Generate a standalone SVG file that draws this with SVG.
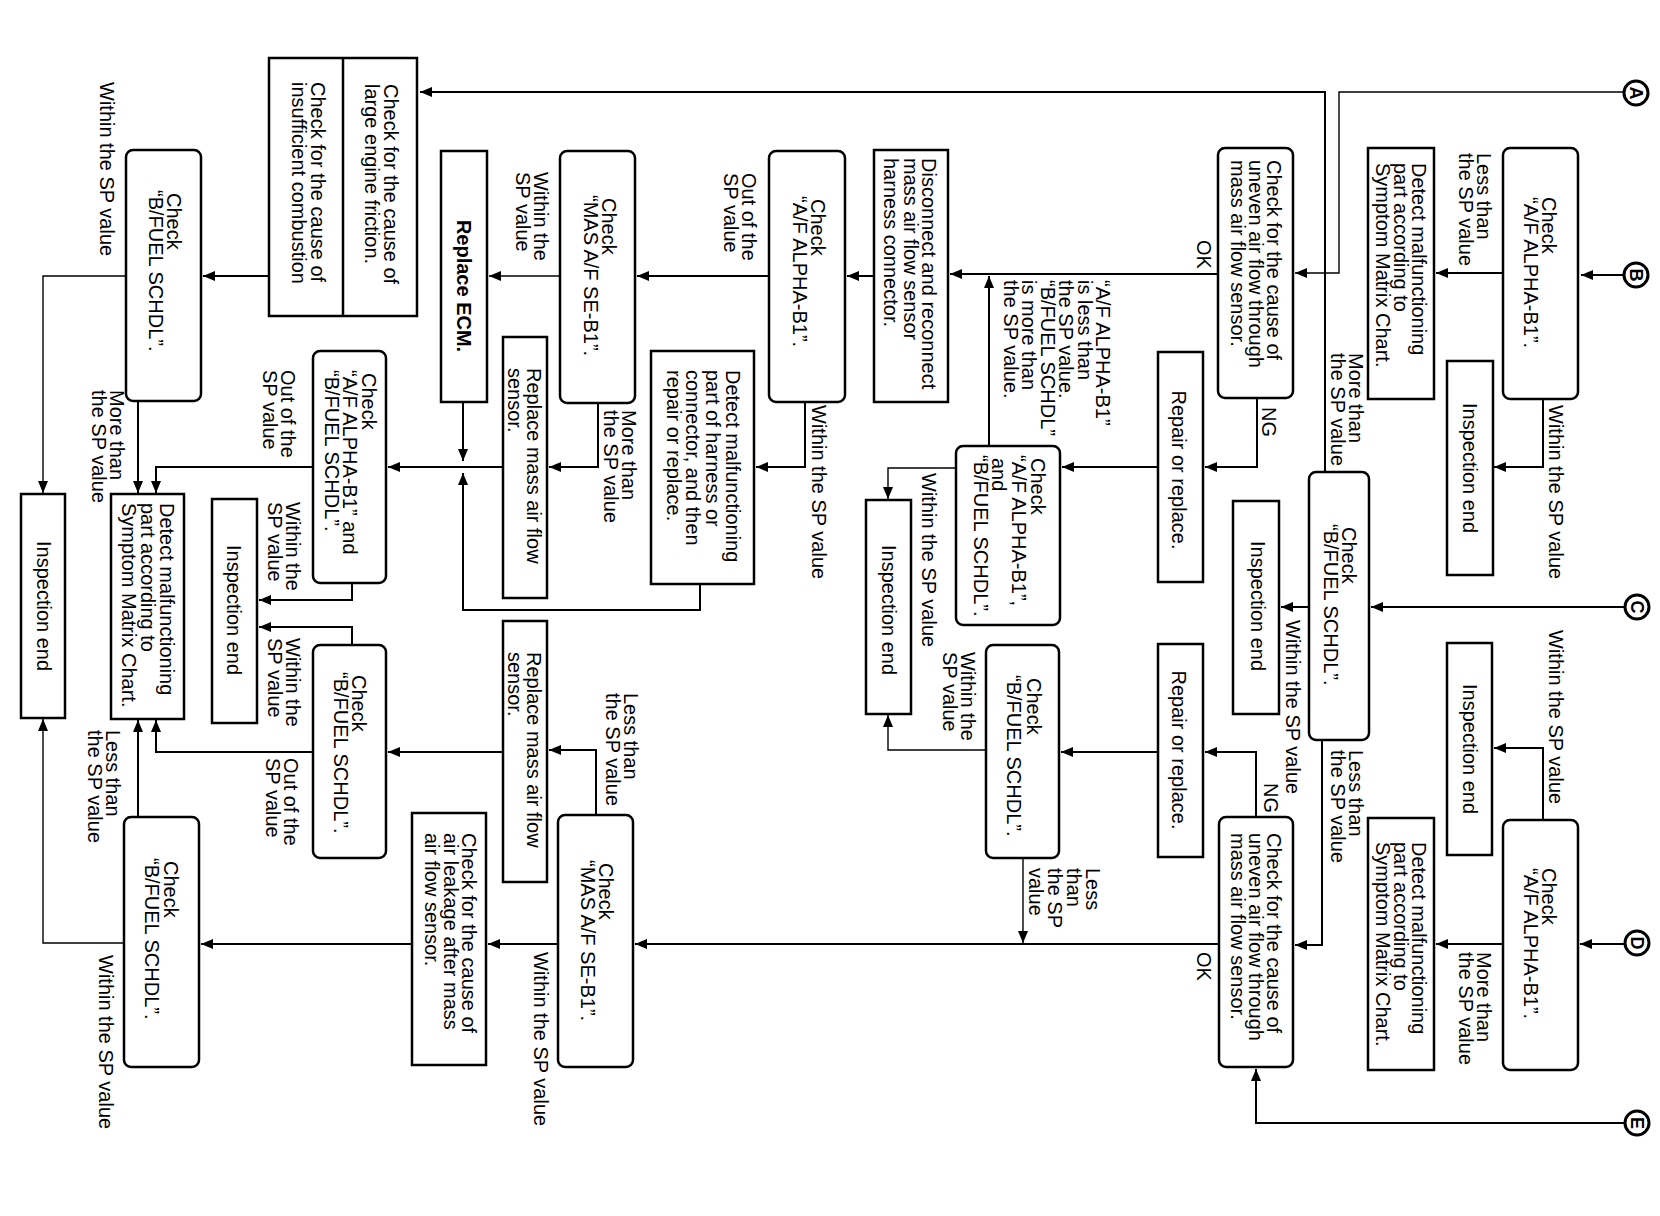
<svg xmlns="http://www.w3.org/2000/svg" width="1660" height="1216" viewBox="0 0 1660 1216">
<defs>
<marker id="ah" viewBox="0 0 12 10" refX="12" refY="5" markerWidth="12" markerHeight="10" markerUnits="userSpaceOnUse" orient="auto"><path d="M0,0L12,5L0,10z" fill="#000"/></marker>
<style>
.b{fill:#fff;stroke:#000;stroke-width:2.5}
.c{fill:none;stroke:#000;stroke-width:2;marker-end:url(#ah)}
.t{stroke-width:1.4}
.k{fill:#fff;stroke:#000;stroke-width:3}
text{font-family:"Liberation Sans",Arial,sans-serif;font-size:20px;fill:#000}
.m{text-anchor:middle}
.bd{font-weight:bold}
.cl{font-weight:bold;font-size:18px;text-anchor:middle}
</style>
</defs>
<rect width="1660" height="1216" fill="#fff"/>

<g id="connectors">
<polyline class="c t" points="1624,92 1339,92 1339,273 1295,273"/>
<polyline class="c" points="1624,275 1581,275"/>
<polyline class="c" points="1503,273 1436,273"/>
<polyline class="c" points="1543,399 1543,467 1494,467"/>
<polyline class="c" points="1218,274 950,274"/>
<polyline class="c" points="1257,398 1257,467 1205,467"/>
<polyline class="c" points="1158,467 1062,467"/>
<polyline class="c" points="989,446 989,276"/>
<polyline class="c t" points="956,468 888,468 888,499"/>
<polyline class="c" points="874,276 847,276"/>
<polyline class="c" points="769,276 637,276"/>
<polyline class="c" points="805,402 805,467 756,467"/>
<polyline class="c t" points="560,276 489,276"/>
<polyline class="c" points="598,403 598,467 549,467"/>
<polyline class="c" points="463,402 463,461"/>
<polyline class="c" points="700,584 700,610 463,610 463,473"/>
<polyline class="c" points="503,467 388,467"/>
<polyline class="c" points="1325,472 1325,92 420,92"/>
<polyline class="c" points="269,276 203,276"/>
<polyline class="c t" points="126,276 43,276 43,493"/>
<polyline class="c" points="138,401 138,493"/>
<polyline class="c" points="313,467 156,467 156,493"/>
<polyline class="c" points="352,583 352,600 259,600"/>
<polyline class="c" points="352,645 352,627 259,627"/>
<polyline class="c" points="313,752 156,752 156,720"/>
<polyline class="c" points="138,817 138,720"/>
<polyline class="c t" points="124,943 43,943 43,719"/>
<polyline class="c" points="1625,607 1371,607"/>
<polyline class="c" points="1309,607 1281,607"/>
<polyline class="c" points="1322,740 1322,945 1295,945"/>
<polyline class="c" points="1256,817 1256,752 1205,752"/>
<polyline class="c" points="1158,752 1061,752"/>
<polyline class="c t" points="986,750 888,750 888,715"/>
<polyline class="c t" points="1023,858 1023,943"/>
<polyline class="c" points="1219,944 635,944"/>
<polyline class="c" points="558,944 488,944"/>
<polyline class="c" points="412,944 201,944"/>
<polyline class="c" points="596,815 596,750 549,750"/>
<polyline class="c" points="503,752 388,752"/>
<polyline class="c" points="1625,944 1580,944"/>
<polyline class="c" points="1503,944 1436,944"/>
<polyline class="c" points="1543,820 1543,748 1494,748"/>
<polyline class="c" points="1625,1123 1256,1123 1256,1069"/>
</g>

<g id="labels">
<text transform="translate(100,82) rotate(90)">Within the SP value</text>
<text transform="translate(110,390) rotate(90)"><tspan x="0" y="0">More than</tspan><tspan x="0" y="18.5">the SP value</tspan></text>
<text transform="translate(281,370) rotate(90)"><tspan x="0" y="0">Out of the</tspan><tspan x="0" y="18.5">SP value</tspan></text>
<text transform="translate(286,502) rotate(90)"><tspan x="0" y="0">Within the</tspan><tspan x="0" y="18.5">SP value</tspan></text>
<text transform="translate(286,638) rotate(90)"><tspan x="0" y="0">Within the</tspan><tspan x="0" y="18.5">SP value</tspan></text>
<text transform="translate(284,758) rotate(90)"><tspan x="0" y="0">Out of the</tspan><tspan x="0" y="18.5">SP value</tspan></text>
<text transform="translate(106,730) rotate(90)"><tspan x="0" y="0">Less than</tspan><tspan x="0" y="18.5">the SP value</tspan></text>
<text transform="translate(99,955) rotate(90)">Within the SP value</text>
<text transform="translate(534,172) rotate(90)"><tspan x="0" y="0">Within the</tspan><tspan x="0" y="18.5">SP value</tspan></text>
<text transform="translate(622,410) rotate(90)"><tspan x="0" y="0">More than</tspan><tspan x="0" y="18.5">the SP value</tspan></text>
<text transform="translate(742,173) rotate(90)"><tspan x="0" y="0">Out of the</tspan><tspan x="0" y="18.5">SP value</tspan></text>
<text transform="translate(812,405) rotate(90)">Within the SP value</text>
<text transform="translate(624,693) rotate(90)"><tspan x="0" y="0">Less than</tspan><tspan x="0" y="18.5">the SP value</tspan></text>
<text transform="translate(534,952) rotate(90)">Within the SP value</text>
<text transform="translate(1197,240) rotate(90)">OK</text>
<text transform="translate(1096,280) rotate(90)"><tspan x="0" y="0">“A/F ALPHA-B1”</tspan><tspan x="0" y="18.5">is less than</tspan><tspan x="0" y="37">the SP value.</tspan><tspan x="0" y="55.5">“B/FUEL SCHDL”</tspan><tspan x="0" y="74">is more than</tspan><tspan x="0" y="92.5">the SP value.</tspan></text>
<text transform="translate(1262,407) rotate(90)">NG</text>
<text transform="translate(922,473) rotate(90)">Within the SP value</text>
<text transform="translate(961,652) rotate(90)"><tspan x="0" y="0">Within the</tspan><tspan x="0" y="18.5">SP value</tspan></text>
<text transform="translate(1086,868) rotate(90)"><tspan x="0" y="0">Less</tspan><tspan x="0" y="19">than</tspan><tspan x="0" y="38">the SP</tspan><tspan x="0" y="57">value</tspan></text>
<text transform="translate(1197,952) rotate(90)">OK</text>
<text transform="translate(1264,783) rotate(90)">NG</text>
<text transform="translate(1477,153) rotate(90)"><tspan x="0" y="0">Less than</tspan><tspan x="0" y="18.5">the SP value</tspan></text>
<text transform="translate(1549,405) rotate(90)">Within the SP value</text>
<text transform="translate(1349,353) rotate(90)"><tspan x="0" y="0">More than</tspan><tspan x="0" y="18.5">the SP value</tspan></text>
<text transform="translate(1286,620) rotate(90)">Within the SP value</text>
<text transform="translate(1349,750) rotate(90)"><tspan x="0" y="0">Less than</tspan><tspan x="0" y="18.5">the SP value</tspan></text>
<text transform="translate(1549,630) rotate(90)">Within the SP value</text>
<text transform="translate(1477,952) rotate(90)"><tspan x="0" y="0">More than</tspan><tspan x="0" y="18.5">the SP value</tspan></text>
</g>

<g id="n1"><rect class="b" x="269" y="58" width="148" height="258"/><line x1="343" y1="58" x2="343" y2="316" stroke="#000" stroke-width="2.5"/>
<text transform="translate(384,84) rotate(90)"><tspan x="0" y="0">Check for the cause of</tspan><tspan x="0" y="19">large engine friction.</tspan></text>
<text transform="translate(311,82) rotate(90)"><tspan x="0" y="0">Check for the cause of</tspan><tspan x="0" y="19">insufficient combustion</tspan></text></g>
<g id="n2"><rect class="b" x="126" y="150" width="75" height="251" rx="7"/><text transform="translate(167,190) rotate(90)"><tspan x="3" y="0">Check</tspan><tspan x="0" y="18.5">“B/FUEL SCHDL”.</tspan></text></g>
<g id="n3"><rect class="b" x="21" y="494" width="44" height="224"/><text class="m" transform="translate(37,606) rotate(90)">Inspection end</text></g>
<g id="n4"><rect class="b" x="111" y="494" width="73" height="225"/><text transform="translate(160,503) rotate(90)"><tspan x="0" y="0">Detect malfunctioning</tspan><tspan x="0" y="19">part according to</tspan><tspan x="0" y="38">Symptom Matrix Chart.</tspan></text></g>
<g id="n5"><rect class="b" x="212" y="499" width="45" height="224"/><text class="m" transform="translate(227,610) rotate(90)">Inspection end</text></g>
<g id="n6"><rect class="b" x="313" y="351" width="73" height="232" rx="7"/><text transform="translate(362,370) rotate(90)"><tspan x="3" y="0">Check</tspan><tspan x="0" y="19">“A/F ALPHA-B1” and</tspan><tspan x="0" y="37">“B/FUEL SCHDL”.</tspan></text></g>
<g id="n7"><rect class="b" x="313" y="645" width="73" height="213" rx="7"/><text transform="translate(352,672) rotate(90)"><tspan x="3" y="0">Check</tspan><tspan x="0" y="18.5">“B/FUEL SCHDL”.</tspan></text></g>
<g id="n8"><rect class="b" x="124" y="817" width="75" height="250" rx="7"/><text transform="translate(164,858) rotate(90)"><tspan x="3" y="0">Check</tspan><tspan x="0" y="19">“B/FUEL SCHDL”.</tspan></text></g>
<g id="n9"><rect class="b" x="441" y="151" width="46" height="251"/><text class="m bd" transform="translate(457,286) rotate(90)">Replace ECM.</text></g>
<g id="n10"><rect class="b" x="503" y="337" width="44" height="261"/><text transform="translate(527,368) rotate(90)"><tspan x="0" y="0">Replace mass air flow</tspan><tspan x="0" y="19">sensor.</tspan></text></g>
<g id="n11"><rect class="b" x="503" y="621" width="44" height="261"/><text transform="translate(527,652) rotate(90)"><tspan x="0" y="0">Replace mass air flow</tspan><tspan x="0" y="19">sensor.</tspan></text></g>
<g id="n12"><rect class="b" x="412" y="813" width="74" height="252"/><text transform="translate(462,833) rotate(90)"><tspan x="0" y="0">Check for the cause of</tspan><tspan x="0" y="18">air leakage after mass</tspan><tspan x="0" y="37">air flow sensor.</tspan></text></g>
<g id="n13"><rect class="b" x="560" y="151" width="75" height="252" rx="7"/><text transform="translate(602,195) rotate(90)"><tspan x="3" y="0">Check</tspan><tspan x="0" y="18.5">“MAS A/F SE-B1”.</tspan></text></g>
<g id="n14"><rect class="b" x="558" y="815" width="75" height="252" rx="7"/><text transform="translate(599,860) rotate(90)"><tspan x="3" y="0">Check</tspan><tspan x="0" y="18.5">“MAS A/F SE-B1”.</tspan></text></g>
<g id="n15"><rect class="b" x="651" y="351" width="103" height="233"/><text transform="translate(726,370) rotate(90)"><tspan x="0" y="0">Detect malfunctioning</tspan><tspan x="0" y="20">part of harness or</tspan><tspan x="0" y="40">connector, and then</tspan><tspan x="0" y="59">repair or replace.</tspan></text></g>
<g id="n16"><rect class="b" x="769" y="151" width="76" height="251" rx="7"/><text transform="translate(811,196) rotate(90)"><tspan x="3" y="0">Check</tspan><tspan x="0" y="18.5">“A/F ALPHA-B1”.</tspan></text></g>
<g id="n17"><rect class="b" x="874" y="150" width="74" height="252"/><text transform="translate(922,158) rotate(90)"><tspan x="0" y="0">Disconnect and reconnect</tspan><tspan x="0" y="18">mass air flow sensor</tspan><tspan x="0" y="38">harness connector.</tspan></text></g>
<g id="n18"><rect class="b" x="956" y="446" width="104" height="179" rx="7"/><text transform="translate(1031,455) rotate(90)"><tspan x="3" y="0">Check</tspan><tspan x="0" y="19">“A/F ALPHA-B1”,</tspan><tspan x="3" y="39">and</tspan><tspan x="0" y="57">“B/FUEL SCHDL”.</tspan></text></g>
<g id="n19"><rect class="b" x="866" y="500" width="45" height="214"/><text class="m" transform="translate(882,610) rotate(90)">Inspection end</text></g>
<g id="n20"><rect class="b" x="986" y="645" width="73" height="213" rx="7"/><text transform="translate(1027,675) rotate(90)"><tspan x="3" y="0">Check</tspan><tspan x="0" y="20">“B/FUEL SCHDL”.</tspan></text></g>
<g id="n21"><rect class="b" x="1158" y="352" width="45" height="230"/><text class="m" transform="translate(1172,470) rotate(90)">Repair or replace.</text></g>
<g id="n22"><rect class="b" x="1158" y="644" width="45" height="213"/><text class="m" transform="translate(1172,750) rotate(90)">Repair or replace.</text></g>
<g id="n23"><rect class="b" x="1218" y="148" width="75" height="250" rx="7"/><text transform="translate(1267,160) rotate(90)"><tspan x="0" y="0">Check for the cause of</tspan><tspan x="0" y="18">uneven air flow through</tspan><tspan x="0" y="36">mass air flow sensor.</tspan></text></g>
<g id="n24"><rect class="b" x="1219" y="817" width="74" height="250" rx="7"/><text transform="translate(1267,833) rotate(90)"><tspan x="0" y="0">Check for the cause of</tspan><tspan x="0" y="18">uneven air flow through</tspan><tspan x="0" y="36">mass air flow sensor.</tspan></text></g>
<g id="n25"><rect class="b" x="1233" y="501" width="46" height="213"/><text class="m" transform="translate(1251,606) rotate(90)">Inspection end</text></g>
<g id="n26"><rect class="b" x="1309" y="472" width="60" height="268" rx="7"/><text transform="translate(1342,524) rotate(90)"><tspan x="3" y="0">Check</tspan><tspan x="0" y="18">“B/FUEL SCHDL”.</tspan></text></g>
<g id="n27"><rect class="b" x="1368" y="148" width="66" height="251"/><text transform="translate(1412,163) rotate(90)"><tspan x="0" y="0">Detect malfunctioning</tspan><tspan x="0" y="18">part according to</tspan><tspan x="0" y="36">Symptom Matrix Chart.</tspan></text></g>
<g id="n28"><rect class="b" x="1368" y="818" width="66" height="252"/><text transform="translate(1412,842) rotate(90)"><tspan x="0" y="0">Detect malfunctioning</tspan><tspan x="0" y="18">part according to</tspan><tspan x="0" y="36">Symptom Matrix Chart.</tspan></text></g>
<g id="n29"><rect class="b" x="1447" y="361" width="46" height="214"/><text class="m" transform="translate(1463,468) rotate(90)">Inspection end</text></g>
<g id="n30"><rect class="b" x="1447" y="643" width="45" height="212"/><text class="m" transform="translate(1463,749) rotate(90)">Inspection end</text></g>
<g id="n31"><rect class="b" x="1503" y="148" width="75" height="251" rx="7"/><text transform="translate(1542,197) rotate(90)"><tspan x="0" y="0">Check</tspan><tspan x="0" y="18">“A/F ALPHA-B1”.</tspan></text></g>
<g id="n32"><rect class="b" x="1503" y="820" width="75" height="250" rx="7"/><text transform="translate(1542,868) rotate(90)"><tspan x="0" y="0">Check</tspan><tspan x="0" y="18">“A/F ALPHA-B1”.</tspan></text></g>

<g id="cA"><circle class="k" cx="1636" cy="93" r="12"/><text class="cl" transform="translate(1629.5,93) rotate(90)">A</text></g>
<g id="cB"><circle class="k" cx="1636" cy="275" r="12"/><text class="cl" transform="translate(1629.5,275) rotate(90)">B</text></g>
<g id="cC"><circle class="k" cx="1637" cy="607" r="12"/><text class="cl" transform="translate(1630.5,607) rotate(90)">C</text></g>
<g id="cD"><circle class="k" cx="1637" cy="943" r="12"/><text class="cl" transform="translate(1630.5,943) rotate(90)">D</text></g>
<g id="cE"><circle class="k" cx="1637" cy="1123" r="12"/><text class="cl" transform="translate(1630.5,1123) rotate(90)">E</text></g>
</svg>
